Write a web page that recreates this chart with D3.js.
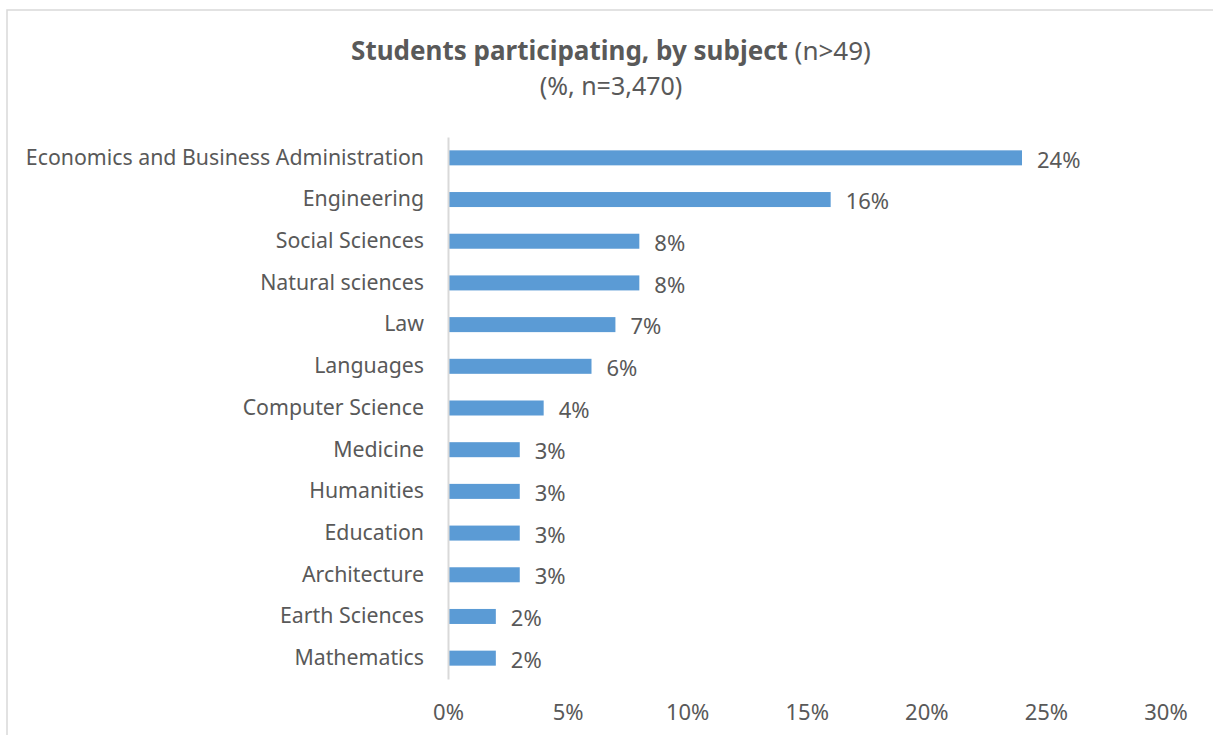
<!DOCTYPE html>
<html>
<head>
<meta charset="utf-8">
<script src="https://cdn.jsdelivr.net/npm/d3@7"></script>
<style>
  html, body { margin: 0; padding: 0; background: #fff; }
  svg { display: block; }
  text { font-family: "Noto Sans", sans-serif; fill: #595959; }
</style>
</head>
<body>
<script>
// Subjects, top to bottom, and the share of students in each (%)
const subjects = [
  "Economics and Business Administration",
  "Engineering",
  "Social Sciences",
  "Natural sciences",
  "Law",
  "Languages",
  "Computer Science ",
  "Medicine",
  "Humanities",
  "Education",
  "Architecture",
  "Earth Sciences",
  "Mathematics"
];
const shares = [24, 16, 8, 8, 7, 6, 4, 3, 3, 3, 3, 2, 2];
const xTicks = [0, 5, 10, 15, 20, 25, 30];

const W = 1213, H = 735;
const FONT = "'Noto Sans', sans-serif";
const svg = d3.select("body").append("svg").attr("width", W).attr("height", H);

// chart frame
svg.append("rect")
  .attr("x", 7).attr("y", 10).attr("width", W).attr("height", H)
  .attr("fill", "none").attr("stroke", "#d9d9d9").attr("stroke-width", 1.5);

// title
const title = svg.append("text").attr("x", 611).attr("y", 60)
  .attr("text-anchor", "middle").style("font-size", "26px");
title.append("tspan").attr("font-weight", "bold").text("Students participating, by subject");
title.append("tspan").text(" (n>49)");
svg.append("text").attr("x", 611).attr("y", 95).attr("text-anchor", "middle")
  .style("font-size", "25px").text("(%, n=3,470)");

const x = d3.scaleLinear().domain([0, 30]).range([448, 1165.5]);
const y = d3.scaleBand().domain(subjects).range([137, 679]).paddingInner(0.64).paddingOuter(0.32);

// bars
svg.append("g").selectAll("rect").data(subjects).join("rect")
  .attr("x", x(0))
  .attr("y", d => y(d))
  .attr("width", (d, i) => x(shares[i]) - x(0))
  .attr("height", y.bandwidth())
  .attr("fill", "#5b9bd5");

// value labels
svg.append("g").selectAll("text").data(subjects).join("text")
  .attr("x", (d, i) => x(shares[i]) + 15)
  .attr("y", d => y(d) + y.bandwidth() / 2 + 2)
  .attr("dy", "0.35em")
  .style("font-size", "22px")
  .text((d, i) => shares[i] + "%");

// category axis
const yAxis = svg.append("g").attr("transform", `translate(${x(0)},0)`)
  .call(d3.axisLeft(y).tickSize(0).tickPadding(24));
yAxis.select(".domain").attr("stroke", "#d9d9d9").attr("stroke-width", 2);
yAxis.selectAll("text").style("font-size", "21.3px").attr("fill", "#595959")
  .style("font-family", FONT);

// value axis (labels only)
const xAxis = svg.append("g").attr("transform", "translate(0,679)")
  .call(d3.axisBottom(x).tickValues(xTicks).tickFormat(d => d + "%").tickSize(0).tickPadding(25));
xAxis.select(".domain").remove();
xAxis.selectAll("text").style("font-size", "22px").attr("fill", "#595959")
  .style("font-family", FONT);
</script>
</body>
</html>
